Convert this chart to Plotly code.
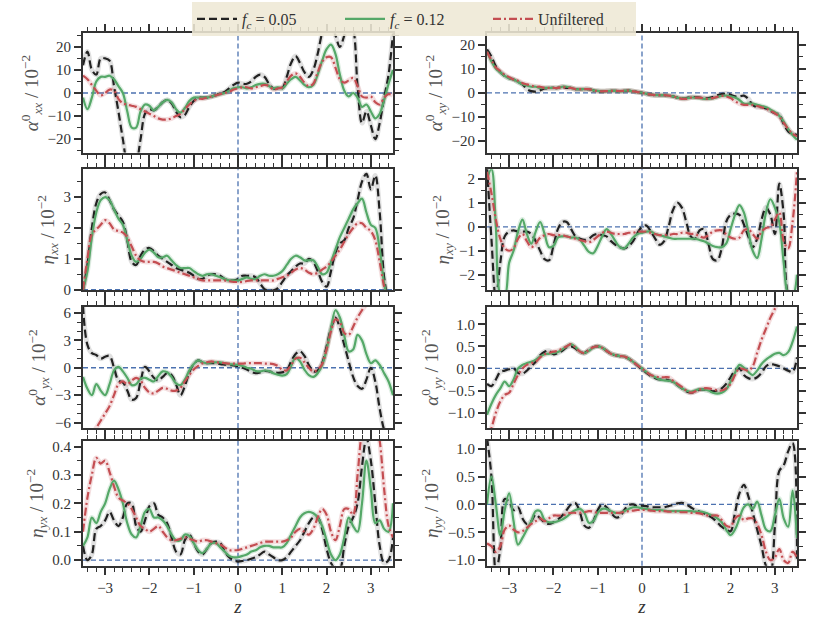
import numpy as np
import plotly.graph_objects as go
from plotly.subplots import make_subplots

# sampling grid in z (0.1 steps from -3.5 to 3.5)
z = np.round(np.linspace(-3.5, 3.5, 71), 2)

# ---- alpha_xx ----
axx_f005 = [12, 18, 10, 8, 15, 15, 14, 3, -8, -20, -30, -32, -30, -20, -9, -7, -7.5, -6, -4, -3, -4.5, -8, -10.5, -9.5, -6, -3.5,
            -2, -2, -2, -1.5, -1, 0, 0.5, 2, 3.5, 4.5, 4, 4, 5, 7, 8, 7, 4, 2, 2, 2, 7, 13, 16, 13, 9, 7, 10, 17, 26, 31,
            30, 25, 20, 25, 32, 28, 3, -13, -8, -14, -20, -13, -2, 8, 26]
axx_f012 = [-2, -7, -2, 5, 7, 7, 7.5, 6, 3, 0, -8, -15, -15, -8, -5, -5.5, -7.5, -6, -4, -3, -4, -7, -8.5, -6.5, -3.5, -2,
            -2, -2, -2, -1.5, -1, -0.5, 0, 1, 2, 2.5, 2.5, 2, 2.5, 3.5, 4, 4, 3, 2, 2.5, 2, 4, 6, 7, 5.5, 3.5, 2.5, 3.5, 8, 14,
            19, 21, 17, 8, 1, -1.5, 0, -2, -6, -5, -8, -11, -9, -3, 4, 10]
axx_raw = [7.5, 6, 3.5, 1, -1, 0, 1.5, 1, -2.5, -4.5, -5, -5.5, -6, -7, -8, -9, -10, -11, -11.5, -11.5, -11, -10, -9, -7, -5,
           -3.5, -2.5, -2.5, -2, -1.5, -1, -0.5, 0, 0.5, 1.5, 2, 2.5, 2.5, 2, 2.5, 3, 3.5, 3, 1.5, 2, 2.5, 5, 7.5, 8.5, 7, 4.5,
           3, 4, 9, 13.5, 15.5, 15.5, 11, 6, 4.5, 5.5, 6.5, 3, -1.5, -2, -1.5, -4, -5, -2, -0.5, -1]

# ---- alpha_xy ----
axy_f005 = [18, 15, 11, 8.5, 7, 6, 5.5, 4.5, 3.5, 1.5, 0.7, 0.5, 1, 1.8, 2, 2, 2, 2.5, 2, 2, 1.5, 1.5, 1.5, 1.5, 1, 0.7, 0.6,
            0.7, 0.8, 0.8, 0.6, 0.8, 0.9, 0.6, 0.3, 0, -0.4, -0.8, -1, -1, -1, -1.2, -1.5, -2, -2.3, -2.2, -1.8, -1.8, -2, -2.2,
            -2.2, -1.8, -1, -0.5, -0.3, -0.8, -1.5, -1.5, -1.2, -2.5, -5, -6, -6, -6.5, -7.5, -8.5, -9, -13, -16, -17, -17.5]
axy_f012 = [17, 13, 10, 8.5, 7, 6, 5.5, 4.5, 3.5, 3, 2.5, 2.5, 2, 2, 2, 2, 2, 2.5, 2.5, 2, 1.5, 1.5, 1.5, 1.5, 1, 0.8, 0.6,
            0.7, 0.8, 0.8, 0.6, 0.8, 0.9, 0.6, 0.3, 0, -0.4, -0.8, -1, -1, -1, -1.2, -1.5, -2, -2.3, -2.3, -2, -2, -2.2, -2.5,
            -2.5, -2.3, -1.8, -1.3, -1.2, -1.5, -2, -3, -4.5, -4.5, -4.5, -5, -5.5, -6, -7, -8, -9.5, -12, -15, -17.5, -19.5]
axy_raw = [17, 13.5, 10.5, 9, 7.5, 6.5, 5.5, 5, 4, 3.5, 3, 2.5, 2.5, 2, 2, 2, 2, 2.5, 2, 2, 1.5, 1.5, 1.5, 1.5, 1, 0.7, 0.6,
           0.7, 0.8, 0.8, 0.7, 0.8, 0.9, 0.6, 0.3, 0, -0.4, -0.8, -1, -1, -1, -1.2, -1.5, -2, -2.5, -2.5, -2, -2, -2, -2.3,
           -2.5, -2.2, -1.7, -1.3, -1.5, -2.2, -3.5, -4.5, -5, -5, -5, -5.5, -6, -6.5, -7.5, -8.5, -10, -12.5, -15, -17, -18]

# ---- eta_xx ----
exx_f005 = [0, 0.8, 2.0, 2.8, 3.1, 3.15, 2.9, 2.6, 2.4, 2.2, 1.6, 0.9, 0.8, 1.1, 1.3, 1.35, 1.25, 1.1, 1.0, 0.9, 0.8, 0.7,
            0.65, 0.6, 0.55, 0.45, 0.35, 0.35, 0.45, 0.5, 0.5, 0.45, 0.35, 0.3, 0.3, 0.35, 0.45, 0.45, 0.45, 0.4, 0.2, 0.02,
            -0.02, -0.02, 0.05, 0.25, 0.45, 0.6, 0.75, 0.85, 0.85, 1.0, 0.9, 0.6, 0.25, 0.1, 0.6, 1.2, 1.5, 1.6, 2.0, 2.3,
            2.9, 3.5, 3.75, 3.25, 3.7, 2.5, 0.4, -0.4, -0.8]
exx_f012 = [0, 0.6, 1.7, 2.5, 2.9, 3.0, 2.9, 2.6, 2.3, 2.1, 1.6, 1.1, 0.9, 1.0, 1.2, 1.3, 1.2, 1.05, 1.05, 1.1, 0.95, 0.8,
            0.7, 0.7, 0.7, 0.6, 0.5, 0.45, 0.5, 0.5, 0.45, 0.4, 0.35, 0.3, 0.3, 0.3, 0.35, 0.4, 0.35, 0.35, 0.45, 0.5, 0.45,
            0.45, 0.5, 0.6, 0.8, 1.0, 1.1, 1.05, 0.95, 0.95, 0.95, 0.75, 0.5, 0.55, 0.9, 1.3, 1.7, 2.0, 2.3, 2.6, 2.8, 2.95,
            2.5, 2.1, 2.0, 1.3, 0.2, -0.4, -0.8]
exx_raw = [0, 1.0, 1.8, 1.95, 2.1, 2.25, 2.15, 1.95, 1.9, 1.85, 1.7, 1.4, 1.1, 0.95, 0.9, 0.9, 0.9, 0.85, 0.75, 0.7, 0.65,
           0.6, 0.55, 0.5, 0.45, 0.4, 0.35, 0.3, 0.3, 0.3, 0.3, 0.3, 0.3, 0.28, 0.25, 0.25, 0.25, 0.28, 0.3, 0.3, 0.3, 0.3,
           0.3, 0.3, 0.35, 0.4, 0.45, 0.55, 0.65, 0.7, 0.65, 0.55, 0.5, 0.55, 0.65, 0.75, 0.9, 1.1, 1.3, 1.55, 1.8, 2.0,
           2.15, 2.15, 2.0, 1.9, 1.6, 0.9, 0.1, -0.4, -0.8]

# ---- eta_xy ----
exy_f005 = [2.5, -0.5, -3, -1.5, -0.4, -0.2, -0.15, -0.2, -0.2, -0.2, -0.3, -0.6, -1.0, -1.35, -1.4, -0.8, -0.1, 0.2, 0.2,
            -0.1, -0.4, -0.5, -0.55, -0.5, -0.35, -0.3, -0.35, -0.4, -0.6, -0.75, -0.85, -0.9, -0.8, -0.6, -0.25, 0, 0.05,
            -0.2, -0.5, -0.75, -0.6, 0, 0.7, 1.0, 0.8, 0.2, -0.4, -0.5, -0.15, -0.1, -0.7, -1.35, -1.4, -0.9, 0.2, 0.5,
            0.55, 0.5, 0.1, -0.4, -0.85, -0.5, 0.3, 0.8, 0.5, -0.3, 1.8, 0.5, -2.8, -3, -3]
exy_f012 = [2.0, 2.4, 0, -2.8, -2.9, -1.5, -1.0, -0.2, 0.3, -0.3, -0.7, -0.2, 0.2, -0.3, -0.85, -0.8, -0.45, -0.4, -0.4,
            -0.45, -0.45, -0.55, -0.8, -1.05, -1.1, -0.8, -0.4, -0.1, -0.3, -0.6, -0.85, -0.9, -0.7, -0.45, -0.3, -0.25,
            -0.2, -0.2, -0.3, -0.35, -0.4, -0.45, -0.5, -0.5, -0.5, -0.5, -0.5, -0.5, -0.55, -0.6, -0.7, -0.8, -0.85, -0.85,
            -0.7, -0.1, 0.5, 0.9, 0.6, -0.2, -1.0, -1.3, -0.5, 0.6, 1.15, 0.8, 0.2, -1.5, -2.8, -2.9, -2.0]
exy_raw = [2.3, 1.4, 0.3, -0.5, -0.9, -1.0, -0.9, -0.5, -0.3, -0.6, -0.85, -0.7, -0.45, -0.35, -0.3, -0.35, -0.35, -0.35,
           -0.4, -0.45, -0.5, -0.55, -0.6, -0.65, -0.55, -0.4, -0.25, -0.2, -0.25, -0.3, -0.3, -0.3, -0.25, -0.25, -0.2,
           -0.2, -0.2, -0.25, -0.3, -0.35, -0.35, -0.35, -0.3, -0.3, -0.25, -0.25, -0.3, -0.3, -0.4, -0.45, -0.35, -0.2,
           -0.15, -0.15, -0.3, -0.45, -0.5, -0.45, -0.15, -0.1, -0.3, -0.5, -0.2, -0.05, 0, 0.3, 0.6, -0.6, -0.9, 0.2, 2.3]

# ---- alpha_yx ----
ayx_f005 = [6.8, 2.5, 1.6, 1.4, 1.0, 1.2, 1.3, 0, -1.4, -1.6, -2.5, -3.5, -3.3, -1.5, 0.1, -0.4, -1.1, -1.4, -1.0, -0.6,
            -0.8, -1.8, -3.0, -2.0, -0.5, 0.4, 0.8, 0.6, 0.5, 0.5, 0.5, 0.4, 0.35, 0.3, 0.25, 0.2, 0, -0.2, -0.45, -0.6,
            -0.5, -0.35, -0.4, -0.5, -0.55, -0.5, -0.3, 0.7, 1.5, 1.8, 1.3, 0.3, -0.4, -0.3, 0.5, 2.3, 4.3, 5.5, 4.3, 2.5,
            0.7, -1.0, -2.0, -2.3, -1.3, 0, -1.5, -4.5, -6.8, -8, -9]
ayx_f012 = [-1.0, -2.3, -3.0, -1.8, -2.5, -3.0, -1.8, -0.3, 0.1, -0.4, -1.1, -1.9, -1.8, -1.2, -1.1, -1.3, -1.5, -0.9, -0.4,
            -0.5, -1.0, -1.7, -1.9, -1.3, -0.3, 0.4, 0.8, 0.6, 0.5, 0.6, 0.6, 0.6, 0.5, 0.4, 0.35, 0.3, 0.2, 0, -0.1, -0.35,
            -0.4, -0.3, -0.35, -0.6, -0.75, -0.85, -0.7, 0.2, 1.1, 0.7, -0.2, -0.8, -1.0, -0.6, 0.3, 2.0, 4.3, 6.3, 5.5,
            3.5, 1.8, 2.0, 3.6, 3.0, 1.5, 0.5, 0.8, 0.3, -0.6, -1.5, -3.0]
ayx_raw = [-9.5, -8.5, -7.5, -6.6, -5.8, -5.0, -4.2, -3.0, -1.8, -1.5, -1.8, -1.4, -1.1, -1.4, -2.2, -2.7, -2.8, -2.5, -2.2,
           -2.3, -2.5, -2.5, -2.2, -1.5, -0.8, -0.2, 0.2, 0.5, 0.6, 0.7, 0.6, 0.55, 0.5, 0.45, 0.45, 0.45, 0.45, 0.5, 0.5,
           0.5, 0.5, 0.45, 0.45, 0.4, 0.2, -0.2, -0.3, 0.3, 1.0, 1.1, 0.6, 0, -0.4, -0.2, 0.4, 2.0, 4.0, 5.3, 5.0, 3.8, 3.6,
           4.5, 5.5, 6.3, 7.0, 8, 9, 10, 11, 12, 13]

# ---- alpha_yy ----
ayy_f005 = [-0.35, -0.4, -0.25, -0.08, -0.05, -0.02, 0, -0.1, -0.12, -0.05, 0.05, 0.15, 0.3, 0.38, 0.4, 0.32, 0.35, 0.4,
            0.48, 0.5, 0.45, 0.37, 0.35, 0.42, 0.48, 0.5, 0.47, 0.4, 0.33, 0.3, 0.28, 0.27, 0.22, 0.15, 0.06, -0.02, -0.1,
            -0.17, -0.22, -0.25, -0.25, -0.27, -0.3, -0.38, -0.45, -0.52, -0.55, -0.52, -0.48, -0.48, -0.5, -0.52, -0.5,
            -0.45, -0.35, -0.2, -0.05, 0, -0.15, -0.22, -0.24, -0.2, -0.1, 0.05, 0.1, 0.08, 0.05, 0, -0.05, -0.08, 0.25]
ayy_f012 = [-1.05, -0.8, -0.6, -0.45, -0.3, -0.4, -0.25, 0, 0.08, 0.12, 0.15, 0.2, 0.27, 0.32, 0.33, 0.35, 0.37, 0.43, 0.5,
            0.55, 0.48, 0.38, 0.35, 0.4, 0.47, 0.5, 0.47, 0.4, 0.33, 0.3, 0.28, 0.27, 0.22, 0.15, 0.08, 0, -0.08, -0.15,
            -0.2, -0.25, -0.27, -0.28, -0.3, -0.38, -0.45, -0.5, -0.53, -0.5, -0.47, -0.48, -0.5, -0.55, -0.57, -0.55,
            -0.48, -0.3, -0.1, 0.08, 0.02, -0.08, -0.15, -0.05, 0.1, 0.2, 0.27, 0.33, 0.35, 0.3, 0.37, 0.6, 0.95]
ayy_raw = [-1.6, -1.35, -1.0, -0.75, -0.6, -0.55, -0.35, -0.15, 0, 0.08, 0.12, 0.15, 0.25, 0.32, 0.35, 0.38, 0.4, 0.45,
           0.5, 0.55, 0.47, 0.38, 0.35, 0.42, 0.48, 0.5, 0.47, 0.4, 0.33, 0.3, 0.28, 0.27, 0.22, 0.15, 0.07, 0, -0.08,
           -0.15, -0.18, -0.2, -0.2, -0.2, -0.28, -0.35, -0.42, -0.5, -0.55, -0.52, -0.48, -0.45, -0.45, -0.47, -0.5, -0.5,
           -0.45, -0.35, -0.15, 0, -0.02, -0.05, 0.05, 0.35, 0.65, 0.9, 1.15, 1.35, 1.6, 1.8, 2.0, 2.2, 2.4]

# ---- eta_yx ----
eyx_f005 = [0.05, 0.0, 0.02, 0.11, 0.12, 0.14, 0.17, 0.14, 0.12, 0.15, 0.2, 0.2, 0.12, 0.1, 0.14, 0.19, 0.2, 0.16, 0.15,
            0.13, 0.08, 0.03, 0.02, 0.07, 0.09, 0.06, 0.03, 0.02, 0.04, 0.06, 0.065, 0.06, 0.03, 0.01, 0.0, -0.005, -0.003,
            0.0, 0.005, 0.01, 0.02, 0.03, 0.02, 0.01, 0.0, 0.0, 0.01, 0.03, 0.05, 0.07, 0.1, 0.13, 0.15, 0.15, 0.11, 0.04,
            -0.01, -0.03, -0.03, 0.05, 0.12, 0.15, 0.2, 0.33, 0.43, 0.35, 0.2, 0.05, -0.01, 0.0, 0.08]
eyx_f012 = [0.05, 0.08, 0.15, 0.13, 0.17, 0.2, 0.25, 0.28, 0.25, 0.2, 0.13, 0.09, 0.08, 0.12, 0.17, 0.18, 0.15, 0.15, 0.14,
            0.12, 0.09, 0.07, 0.07, 0.09, 0.085, 0.06, 0.035, 0.025, 0.04, 0.06, 0.06, 0.045, 0.03, 0.015, 0.01, 0.01,
            0.015, 0.02, 0.03, 0.035, 0.045, 0.05, 0.05, 0.045, 0.045, 0.045, 0.06, 0.09, 0.12, 0.15, 0.165, 0.17, 0.165,
            0.15, 0.12, 0.07, 0.02, 0.0, 0.02, 0.08, 0.15, 0.12, 0.1, 0.2, 0.35, 0.25, 0.13, 0.14, 0.11, 0.1, 0.2]
eyx_raw = [0.1, 0.22, 0.3, 0.36, 0.34, 0.35, 0.31, 0.26, 0.22, 0.21, 0.2, 0.18, 0.15, 0.12, 0.11, 0.1, 0.11, 0.12, 0.1,
           0.08, 0.07, 0.07, 0.075, 0.08, 0.075, 0.07, 0.065, 0.07, 0.07, 0.065, 0.06, 0.055, 0.045, 0.035, 0.035, 0.035,
           0.04, 0.045, 0.05, 0.055, 0.06, 0.065, 0.065, 0.065, 0.065, 0.065, 0.07, 0.08, 0.1, 0.11, 0.1, 0.09, 0.11, 0.15,
           0.18, 0.16, 0.1, 0.07, 0.12, 0.18, 0.18, 0.16, 0.3, 0.45, 0.5, 0.5, 0.5, 0.42, 0.25, 0.12, 0.08]

# ---- eta_yy ----
eyy_f005 = [1.2, 0.5, -1.2, -0.8, 0.1, 0.05, -0.1, -0.05, -0.25, -0.35, -0.3, -0.18, -0.25, -0.32, -0.35, -0.32, -0.27,
            -0.2, -0.1, 0.0, 0.02, -0.15, -0.38, -0.42, -0.3, -0.1, 0.0, -0.05, -0.15, -0.23, -0.22, -0.1, -0.01, 0.0,
            -0.03, -0.02, -0.03, -0.05, -0.05, -0.05, -0.05, -0.03, -0.01, 0.02, 0.03, 0.0, -0.05, -0.1, -0.13, -0.16,
            -0.2, -0.25, -0.32, -0.4, -0.45, -0.48, -0.15, 0.2, 0.35, 0.15, -0.15, -0.45, -0.75, -1.1, -1.2, -0.4, 0.6,
            0.7, 0.95, 1.1, -1.0]
eyy_f012 = [0.0, 0.5, 0.0, -0.55, -0.1, 0.2, -0.3, -0.72, -0.6, -0.45, -0.3, -0.12, -0.12, -0.28, -0.32, -0.32, -0.3,
            -0.27, -0.22, -0.15, -0.1, -0.08, -0.15, -0.33, -0.3, -0.15, -0.08, -0.08, -0.12, -0.15, -0.15, -0.12, -0.08,
            -0.05, -0.05, -0.07, -0.08, -0.1, -0.1, -0.1, -0.11, -0.12, -0.12, -0.12, -0.12, -0.12, -0.12, -0.13, -0.13,
            -0.14, -0.17, -0.2, -0.25, -0.32, -0.45, -0.55, -0.45, -0.25, -0.05, 0.0, -0.08, 0.05, -0.2, -0.45, -0.48,
            -0.2, 0.1, -0.25, -0.4, 0.25, -0.6]
eyy_raw = [-0.7, -0.75, -0.85, -0.75, -0.45, -0.38, -0.45, -0.5, -0.48, -0.42, -0.35, -0.3, -0.25, -0.3, -0.25, -0.2,
           -0.2, -0.2, -0.17, -0.15, -0.15, -0.15, -0.14, -0.12, -0.13, -0.15, -0.15, -0.15, -0.15, -0.15, -0.15, -0.13,
           -0.12, -0.11, -0.1, -0.1, -0.1, -0.11, -0.12, -0.12, -0.12, -0.13, -0.13, -0.13, -0.14, -0.14, -0.15, -0.15,
           -0.16, -0.18, -0.2, -0.2, -0.2, -0.28, -0.38, -0.4, -0.25, -0.2, -0.28, -0.25, -0.25, -0.35, -0.55, -0.85,
           -1.0, -0.95, -0.8, -1.0, -1.05, -0.85, -0.95]

# panel order: (row, col) -> data, y label, y range, major/minor tick step, tick format
panels = [
    (1, 1, axx_f005, axx_f012, axx_raw, "<i>α</i><sup>0</sup><sub><i>xx</i></sub> / 10<sup>−2</sup>", [-25.8, 25.8], 10, 5, None),
    (1, 2, axy_f005, axy_f012, axy_raw, "<i>α</i><sup>0</sup><sub><i>xy</i></sub> / 10<sup>−2</sup>", [-24.8, 24.6], 10, 5, None),
    (2, 1, exx_f005, exx_f012, exx_raw, "<i>η</i><sub><i>xx</i></sub> / 10<sup>−2</sup>", [-0.02, 3.9], 1, 0.5, None),
    (2, 2, exy_f005, exy_f012, exy_raw, "<i>η</i><sub><i>xy</i></sub> / 10<sup>−2</sup>", [-2.65, 2.4], 1, 0.5, None),
    (3, 1, ayx_f005, ayx_f012, ayx_raw, "<i>α</i><sup>0</sup><sub><i>yx</i></sub> / 10<sup>−2</sup>", [-6.6, 6.65], 3, 1, None),
    (3, 2, ayy_f005, ayy_f012, ayy_raw, "<i>α</i><sup>0</sup><sub><i>yy</i></sub> / 10<sup>−2</sup>", [-1.35, 1.39], 0.5, 0.25, ".1f"),
    (4, 1, eyx_f005, eyx_f012, eyx_raw, "<i>η</i><sub><i>yx</i></sub> / 10<sup>−2</sup>", [-0.02, 0.42], 0.1, 0.05, ".1f"),
    (4, 2, eyy_f005, eyy_f012, eyy_raw, "<i>η</i><sub><i>yy</i></sub> / 10<sup>−2</sup>", [-1.1, 1.14], 0.5, 0.25, ".1f"),
]

for p in panels:
    for s in p[2:5]:
        assert len(s) == len(z), (p[5], len(s))

series_style = [
    ("<i>f</i><sub><i>c</i></sub> = 0.05", "#222222", "rgba(0,0,0,0.12)", "8px,4px"),
    ("<i>f</i><sub><i>c</i></sub> = 0.12", "#55A868", "rgba(85,168,104,0.18)", "solid"),
    ("Unfiltered", "#C44E52", "rgba(196,78,82,0.18)", "8px,3px,2px,3px"),
]

# plot area edges in pixels (830 x 623 page)
W, H = 830, 623
x_dom = {1: [83 / W, 393 / W], 2: [487 / W, 797 / W]}
y_dom = {1: [1 - 153 / H, 1 - 32 / H], 2: [1 - 293 / H, 1 - 170 / H],
         3: [1 - 433 / H, 1 - 310 / H], 4: [1 - 573 / H, 1 - 446 / H]}

fig = make_subplots(rows=4, cols=2)

frame = "#333333"
font_serif = "Liberation Serif"

for row, col, f005, f012, raw, label, yr, dt, mdt, fmt in panels:
    # uncertainty halo first, lines on top
    for (name, color, band, dash), vals in zip(series_style, (f005, f012, raw)):
        fig.add_trace(go.Scatter(x=z, y=vals, mode="lines", line=dict(color=band, width=5, shape="spline"),
                                 hoverinfo="skip", showlegend=False), row=row, col=col)
    for (name, color, band, dash), vals in zip(series_style, (f005, f012, raw)):
        fig.add_trace(go.Scatter(x=z, y=vals, mode="lines", name=name,
                                 line=dict(color=color, width=2.2, dash=dash, shape="spline"),
                                 showlegend=(row == 1 and col == 1)), row=row, col=col)

    fig.add_hline(y=0, row=row, col=col, line=dict(color="#4C72B0", width=1.3, dash="5px,3px"), layer="below")
    fig.add_vline(x=0, row=row, col=col, line=dict(color="#4C72B0", width=1.3, dash="5px,3px"), layer="below")

    fig.update_xaxes(range=[-3.5, 3.5], domain=x_dom[col], dtick=1, tick0=0,
                     showticklabels=(row == 4), showgrid=False, zeroline=False,
                     showline=True, linecolor=frame, linewidth=2, mirror="ticks",
                     ticks="outside", ticklen=7, tickwidth=1.5, tickcolor=frame,
                     minor=dict(dtick=0.2, tick0=0, ticks="outside", ticklen=4, tickwidth=1.2, tickcolor=frame),
                     tickfont=dict(family=font_serif, size=15, color="#333"),
                     title=dict(text="<i>z</i>" if row == 4 else "", font=dict(family=font_serif, size=19, color="#333"),
                                standoff=2),
                     row=row, col=col)
    fig.update_yaxes(range=yr, domain=y_dom[row], dtick=dt, tick0=0, tickformat=fmt,
                     showgrid=False, zeroline=False,
                     showline=True, linecolor=frame, linewidth=2, mirror="ticks",
                     ticks="outside", ticklen=7, tickwidth=1.5, tickcolor=frame,
                     minor=dict(dtick=mdt, tick0=0, ticks="outside", ticklen=4, tickwidth=1.2, tickcolor=frame),
                     tickfont=dict(family=font_serif, size=15, color="#333"),
                     title=dict(text=label, font=dict(family=font_serif, size=19, color="#555"), standoff=4),
                     row=row, col=col)

fig.update_layout(
    width=W, height=H,
    margin=dict(l=0, r=0, t=0, b=0),
    paper_bgcolor="white", plot_bgcolor="white",
    font=dict(family=font_serif, color="#333"),
    legend=dict(orientation="h", x=192 / W, xanchor="left", y=1, yanchor="top",
                bgcolor="rgba(238,232,213,0.88)", borderwidth=0,
                font=dict(family=font_serif, size=16, color="#333"),
                entrywidth=93, itemwidth=40, tracegroupgap=0),
)

# drop the page's default body margin so the figure sits at the window's corner
fig.write_html("out.html", config={"displayModeBar": False},
               post_script="document.body.style.margin='0px';")
